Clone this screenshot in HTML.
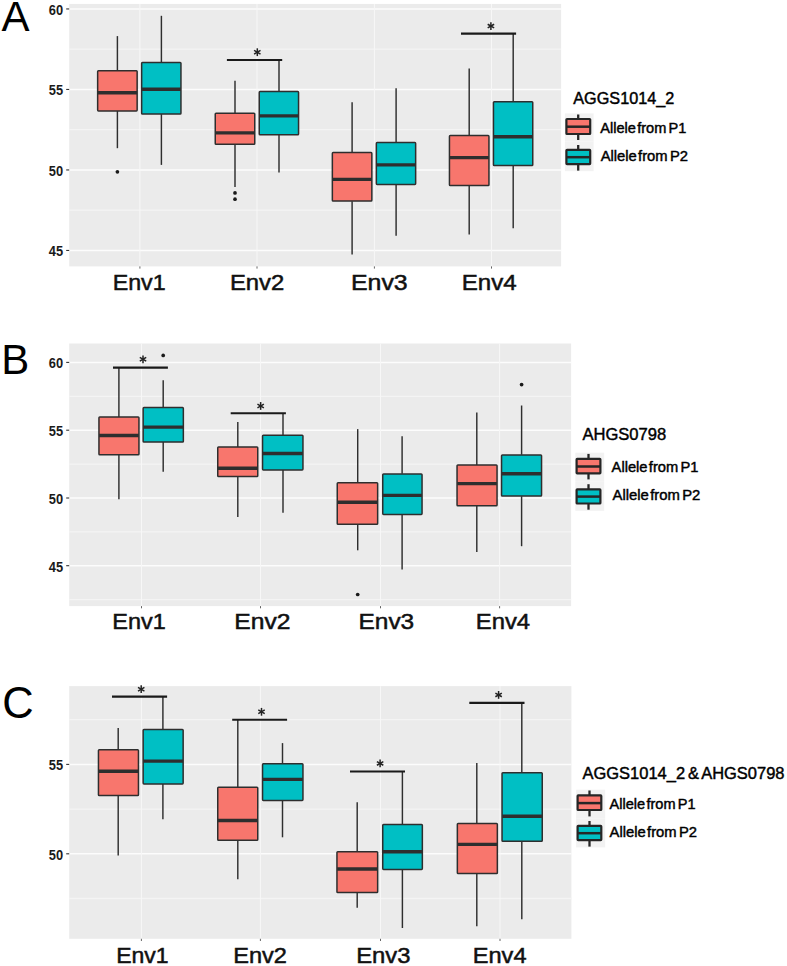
<!DOCTYPE html>
<html><head><meta charset="utf-8"><title>Allele boxplots</title>
<style>
html,body{margin:0;padding:0;background:#fff;}
body{width:787px;height:966px;overflow:hidden;}
svg{display:block;}
text{font-family:"Liberation Sans",sans-serif;fill:#111;}
.yl{font-size:15.1px;font-weight:bold;fill:#1a1a1a;}
.xl{font-size:22px;fill:#111;stroke:#111;stroke-width:0.5px;}
.pl{font-size:42px;fill:#000;}
.lt{font-size:15.7px;fill:#000;stroke:#000;stroke-width:0.42px;word-spacing:-1.5px;}
.ll{font-size:13.8px;fill:#000;stroke:#000;stroke-width:0.42px;word-spacing:-2.6px;}
.star{font-size:15px;font-weight:bold;fill:#222;}
</style></head><body>
<svg width="787" height="966" viewBox="0 0 787 966">
<rect x="0" y="0" width="787" height="966" fill="#ffffff"/>
<rect x="69.2" y="3.95" width="491.9" height="262.45" fill="#EBEBEB"/>
<line x1="69.2" x2="561.1" y1="49.2" y2="49.2" stroke="#f4f4f4" stroke-width="1.3"/>
<line x1="69.2" x2="561.1" y1="129.7" y2="129.7" stroke="#f4f4f4" stroke-width="1.3"/>
<line x1="69.2" x2="561.1" y1="210.2" y2="210.2" stroke="#f4f4f4" stroke-width="1.3"/>
<line x1="69.2" x2="561.1" y1="8.95" y2="8.95" stroke="#fcfcfc" stroke-width="1.5"/>
<line x1="69.2" x2="561.1" y1="89.45" y2="89.45" stroke="#fcfcfc" stroke-width="1.5"/>
<line x1="69.2" x2="561.1" y1="169.95" y2="169.95" stroke="#fcfcfc" stroke-width="1.5"/>
<line x1="69.2" x2="561.1" y1="250.45" y2="250.45" stroke="#fcfcfc" stroke-width="1.5"/>
<line x1="139.9" x2="139.9" y1="3.95" y2="266.4" stroke="#f7f7f7" stroke-width="1.05"/>
<line x1="139.9" x2="139.9" y1="266.4" y2="268.6" stroke="#555" stroke-width="0.9"/>
<line x1="257" x2="257" y1="3.95" y2="266.4" stroke="#f7f7f7" stroke-width="1.05"/>
<line x1="257" x2="257" y1="266.4" y2="268.6" stroke="#555" stroke-width="0.9"/>
<line x1="374.4" x2="374.4" y1="3.95" y2="266.4" stroke="#f7f7f7" stroke-width="1.05"/>
<line x1="374.4" x2="374.4" y1="266.4" y2="268.6" stroke="#555" stroke-width="0.9"/>
<line x1="491.5" x2="491.5" y1="3.95" y2="266.4" stroke="#f7f7f7" stroke-width="1.05"/>
<line x1="491.5" x2="491.5" y1="266.4" y2="268.6" stroke="#555" stroke-width="0.9"/>
<line x1="66.2" x2="69.2" y1="8.95" y2="8.95" stroke="#333" stroke-width="1.1"/>
<text x="63.1" y="14.95" text-anchor="end" class="yl" textLength="14.3" lengthAdjust="spacingAndGlyphs">60</text>
<line x1="66.2" x2="69.2" y1="89.45" y2="89.45" stroke="#333" stroke-width="1.1"/>
<text x="63.1" y="95.45" text-anchor="end" class="yl" textLength="14.3" lengthAdjust="spacingAndGlyphs">55</text>
<line x1="66.2" x2="69.2" y1="169.95" y2="169.95" stroke="#333" stroke-width="1.1"/>
<text x="63.1" y="175.95" text-anchor="end" class="yl" textLength="14.3" lengthAdjust="spacingAndGlyphs">50</text>
<line x1="66.2" x2="69.2" y1="250.45" y2="250.45" stroke="#333" stroke-width="1.1"/>
<text x="63.1" y="256.45" text-anchor="end" class="yl" textLength="14.3" lengthAdjust="spacingAndGlyphs">45</text>
<line x1="117.4" x2="117.4" y1="36.1" y2="70.6" stroke="#2e2e2e" stroke-width="1.45"/>
<line x1="117.4" x2="117.4" y1="111" y2="148.2" stroke="#2e2e2e" stroke-width="1.45"/>
<rect x="97.65" y="70.7" width="39.5" height="40.2" rx="0.8" fill="#F8766D" stroke="#2e2e2e" stroke-width="1.5"/>
<line x1="97.8" x2="137" y1="92.8" y2="92.8" stroke="#2e2e2e" stroke-width="3.4"/>
<circle cx="117.4" cy="171.8" r="1.85" fill="#1a1a1a"/>
<line x1="161.4" x2="161.4" y1="15.8" y2="62.3" stroke="#2e2e2e" stroke-width="1.45"/>
<line x1="161.4" x2="161.4" y1="114.1" y2="164.9" stroke="#2e2e2e" stroke-width="1.45"/>
<rect x="141.65" y="62.4" width="39.3" height="51.6" rx="0.8" fill="#00BFC4" stroke="#2e2e2e" stroke-width="1.5"/>
<line x1="141.8" x2="180.8" y1="89.2" y2="89.2" stroke="#2e2e2e" stroke-width="3.4"/>
<line x1="235" x2="235" y1="80.8" y2="113.1" stroke="#2e2e2e" stroke-width="1.45"/>
<line x1="235" x2="235" y1="144.3" y2="187" stroke="#2e2e2e" stroke-width="1.45"/>
<rect x="215.25" y="113.2" width="39.5" height="31" rx="0.8" fill="#F8766D" stroke="#2e2e2e" stroke-width="1.5"/>
<line x1="215.4" x2="254.6" y1="132.9" y2="132.9" stroke="#2e2e2e" stroke-width="3.4"/>
<circle cx="235" cy="192.9" r="1.85" fill="#1a1a1a"/>
<circle cx="235" cy="199.2" r="1.85" fill="#1a1a1a"/>
<line x1="279" x2="279" y1="60.2" y2="91.5" stroke="#2e2e2e" stroke-width="1.45"/>
<line x1="279" x2="279" y1="134.9" y2="172.5" stroke="#2e2e2e" stroke-width="1.45"/>
<rect x="259.25" y="91.6" width="39.3" height="43.2" rx="0.8" fill="#00BFC4" stroke="#2e2e2e" stroke-width="1.5"/>
<line x1="259.4" x2="298.4" y1="115.9" y2="115.9" stroke="#2e2e2e" stroke-width="3.4"/>
<line x1="226.9" x2="282.2" y1="60" y2="60" stroke="#1a1a1a" stroke-width="2.1"/>
<line x1="257.3" x2="257.3" y1="48.3" y2="56.1" stroke="#222" stroke-width="1.5"/>
<line x1="254.09" x2="260.51" y1="50.35" y2="54.05" stroke="#222" stroke-width="1.5"/>
<line x1="260.51" x2="254.09" y1="50.35" y2="54.05" stroke="#222" stroke-width="1.5"/>
<line x1="352.1" x2="352.1" y1="102.2" y2="152.5" stroke="#2e2e2e" stroke-width="1.45"/>
<line x1="352.1" x2="352.1" y1="201.2" y2="254.4" stroke="#2e2e2e" stroke-width="1.45"/>
<rect x="332.35" y="152.6" width="39.5" height="48.5" rx="0.8" fill="#F8766D" stroke="#2e2e2e" stroke-width="1.5"/>
<line x1="332.5" x2="371.7" y1="179.4" y2="179.4" stroke="#2e2e2e" stroke-width="3.4"/>
<line x1="396.1" x2="396.1" y1="88.2" y2="142.5" stroke="#2e2e2e" stroke-width="1.45"/>
<line x1="396.1" x2="396.1" y1="184.5" y2="235.8" stroke="#2e2e2e" stroke-width="1.45"/>
<rect x="376.35" y="142.6" width="39.3" height="41.8" rx="0.8" fill="#00BFC4" stroke="#2e2e2e" stroke-width="1.5"/>
<line x1="376.5" x2="415.5" y1="164.9" y2="164.9" stroke="#2e2e2e" stroke-width="3.4"/>
<line x1="469.2" x2="469.2" y1="68.6" y2="135.5" stroke="#2e2e2e" stroke-width="1.45"/>
<line x1="469.2" x2="469.2" y1="185.7" y2="234.5" stroke="#2e2e2e" stroke-width="1.45"/>
<rect x="449.45" y="135.6" width="39.5" height="50" rx="0.8" fill="#F8766D" stroke="#2e2e2e" stroke-width="1.5"/>
<line x1="449.6" x2="488.8" y1="157.6" y2="157.6" stroke="#2e2e2e" stroke-width="3.4"/>
<line x1="513.2" x2="513.2" y1="33" y2="101.7" stroke="#2e2e2e" stroke-width="1.45"/>
<line x1="513.2" x2="513.2" y1="165.7" y2="228.2" stroke="#2e2e2e" stroke-width="1.45"/>
<rect x="493.45" y="101.8" width="39.3" height="63.8" rx="0.8" fill="#00BFC4" stroke="#2e2e2e" stroke-width="1.5"/>
<line x1="493.6" x2="532.6" y1="136.7" y2="136.7" stroke="#2e2e2e" stroke-width="3.4"/>
<line x1="461" x2="516.1" y1="33.6" y2="33.6" stroke="#1a1a1a" stroke-width="2.1"/>
<line x1="490.9" x2="490.9" y1="22.2" y2="30" stroke="#222" stroke-width="1.5"/>
<line x1="487.69" x2="494.11" y1="24.25" y2="27.95" stroke="#222" stroke-width="1.5"/>
<line x1="494.11" x2="487.69" y1="24.25" y2="27.95" stroke="#222" stroke-width="1.5"/>
<text x="139.2" y="290.4" text-anchor="middle" class="xl" textLength="53" lengthAdjust="spacingAndGlyphs">Env1</text>
<text x="257.05" y="290.4" text-anchor="middle" class="xl" textLength="54.3" lengthAdjust="spacingAndGlyphs">Env2</text>
<text x="379.35" y="290.4" text-anchor="middle" class="xl" textLength="56.7" lengthAdjust="spacingAndGlyphs">Env3</text>
<text x="489.25" y="290.4" text-anchor="middle" class="xl" textLength="54.9" lengthAdjust="spacingAndGlyphs">Env4</text>
<text x="573.3" y="104.1" class="lt" textLength="101" lengthAdjust="spacingAndGlyphs">AGGS1014_2</text>
<rect x="564.9" y="113.4" width="28.7" height="28.2" fill="#F2F2F2"/>
<line x1="578.2" x2="578.2" y1="114.5" y2="140" stroke="#262626" stroke-width="2.3"/>
<rect x="566.4" y="119" width="23.8" height="15" rx="0.6" fill="#F8766D" stroke="#262626" stroke-width="2.2"/>
<line x1="566.4" x2="590.2" y1="126.7" y2="126.7" stroke="#262626" stroke-width="2.5"/>
<rect x="564.9" y="141.6" width="28.7" height="29.6" fill="#F2F2F2"/>
<line x1="578.2" x2="578.2" y1="145" y2="170.6" stroke="#262626" stroke-width="2.3"/>
<rect x="566.4" y="149.9" width="23.8" height="14.3" rx="0.6" fill="#00BFC4" stroke="#262626" stroke-width="2.2"/>
<line x1="566.4" x2="590.2" y1="157.2" y2="157.2" stroke="#262626" stroke-width="2.5"/>
<text x="600.2" y="132.5" class="ll" textLength="86.2" lengthAdjust="spacingAndGlyphs">Allele from <tspan dx="0.9">P1</tspan></text>
<text x="600.7" y="160.7" class="ll" textLength="87.3" lengthAdjust="spacingAndGlyphs">Allele from <tspan dx="0.9">P2</tspan></text>
<text x="1.5" y="30.9" class="pl">A</text>
<rect x="69.2" y="343.5" width="501.9" height="262.6" fill="#EBEBEB"/>
<line x1="69.2" x2="571.1" y1="396.3" y2="396.3" stroke="#f4f4f4" stroke-width="1.3"/>
<line x1="69.2" x2="571.1" y1="464.1" y2="464.1" stroke="#f4f4f4" stroke-width="1.3"/>
<line x1="69.2" x2="571.1" y1="531.8" y2="531.8" stroke="#f4f4f4" stroke-width="1.3"/>
<line x1="69.2" x2="571.1" y1="599.6" y2="599.6" stroke="#f4f4f4" stroke-width="1.3"/>
<line x1="69.2" x2="571.1" y1="362.4" y2="362.4" stroke="#fcfcfc" stroke-width="1.5"/>
<line x1="69.2" x2="571.1" y1="430.2" y2="430.2" stroke="#fcfcfc" stroke-width="1.5"/>
<line x1="69.2" x2="571.1" y1="498" y2="498" stroke="#fcfcfc" stroke-width="1.5"/>
<line x1="69.2" x2="571.1" y1="565.7" y2="565.7" stroke="#fcfcfc" stroke-width="1.5"/>
<line x1="141.5" x2="141.5" y1="343.5" y2="606.1" stroke="#f7f7f7" stroke-width="1.05"/>
<line x1="141.5" x2="141.5" y1="606.1" y2="608.3" stroke="#555" stroke-width="0.9"/>
<line x1="260.5" x2="260.5" y1="343.5" y2="606.1" stroke="#f7f7f7" stroke-width="1.05"/>
<line x1="260.5" x2="260.5" y1="606.1" y2="608.3" stroke="#555" stroke-width="0.9"/>
<line x1="380.5" x2="380.5" y1="343.5" y2="606.1" stroke="#f7f7f7" stroke-width="1.05"/>
<line x1="380.5" x2="380.5" y1="606.1" y2="608.3" stroke="#555" stroke-width="0.9"/>
<line x1="499.6" x2="499.6" y1="343.5" y2="606.1" stroke="#f7f7f7" stroke-width="1.05"/>
<line x1="499.6" x2="499.6" y1="606.1" y2="608.3" stroke="#555" stroke-width="0.9"/>
<line x1="66.2" x2="69.2" y1="362.4" y2="362.4" stroke="#333" stroke-width="1.1"/>
<text x="63.1" y="368.4" text-anchor="end" class="yl" textLength="14.3" lengthAdjust="spacingAndGlyphs">60</text>
<line x1="66.2" x2="69.2" y1="430.2" y2="430.2" stroke="#333" stroke-width="1.1"/>
<text x="63.1" y="436.2" text-anchor="end" class="yl" textLength="14.3" lengthAdjust="spacingAndGlyphs">55</text>
<line x1="66.2" x2="69.2" y1="498" y2="498" stroke="#333" stroke-width="1.1"/>
<text x="63.1" y="504" text-anchor="end" class="yl" textLength="14.3" lengthAdjust="spacingAndGlyphs">50</text>
<line x1="66.2" x2="69.2" y1="565.7" y2="565.7" stroke="#333" stroke-width="1.1"/>
<text x="63.1" y="571.7" text-anchor="end" class="yl" textLength="14.3" lengthAdjust="spacingAndGlyphs">45</text>
<line x1="118.9" x2="118.9" y1="367.6" y2="416.9" stroke="#2e2e2e" stroke-width="1.45"/>
<line x1="118.9" x2="118.9" y1="454.8" y2="499.2" stroke="#2e2e2e" stroke-width="1.45"/>
<rect x="98.95" y="417" width="40" height="37.7" rx="0.8" fill="#F8766D" stroke="#2e2e2e" stroke-width="1.5"/>
<line x1="99.1" x2="138.8" y1="435.5" y2="435.5" stroke="#2e2e2e" stroke-width="3.4"/>
<line x1="163.2" x2="163.2" y1="380.3" y2="407.5" stroke="#2e2e2e" stroke-width="1.45"/>
<line x1="163.2" x2="163.2" y1="442.1" y2="471.8" stroke="#2e2e2e" stroke-width="1.45"/>
<rect x="143.15" y="407.6" width="40.2" height="34.4" rx="0.8" fill="#00BFC4" stroke="#2e2e2e" stroke-width="1.5"/>
<line x1="143.3" x2="183.2" y1="427.1" y2="427.1" stroke="#2e2e2e" stroke-width="3.4"/>
<circle cx="163.2" cy="355.4" r="1.85" fill="#1a1a1a"/>
<line x1="113" x2="167.9" y1="367.6" y2="367.6" stroke="#1a1a1a" stroke-width="2.1"/>
<line x1="143" x2="143" y1="355.4" y2="363.2" stroke="#222" stroke-width="1.5"/>
<line x1="139.79" x2="146.21" y1="357.45" y2="361.15" stroke="#222" stroke-width="1.5"/>
<line x1="146.21" x2="139.79" y1="357.45" y2="361.15" stroke="#222" stroke-width="1.5"/>
<line x1="237.8" x2="237.8" y1="422" y2="446.9" stroke="#2e2e2e" stroke-width="1.45"/>
<line x1="237.8" x2="237.8" y1="476.6" y2="517" stroke="#2e2e2e" stroke-width="1.45"/>
<rect x="217.75" y="447" width="40" height="29.5" rx="0.8" fill="#F8766D" stroke="#2e2e2e" stroke-width="1.5"/>
<line x1="217.9" x2="257.6" y1="468.2" y2="468.2" stroke="#2e2e2e" stroke-width="3.4"/>
<line x1="283" x2="283" y1="413.1" y2="435.2" stroke="#2e2e2e" stroke-width="1.45"/>
<line x1="283" x2="283" y1="470" y2="512.7" stroke="#2e2e2e" stroke-width="1.45"/>
<rect x="262.55" y="435.3" width="40.4" height="34.6" rx="0.8" fill="#00BFC4" stroke="#2e2e2e" stroke-width="1.5"/>
<line x1="262.7" x2="302.8" y1="453.5" y2="453.5" stroke="#2e2e2e" stroke-width="3.4"/>
<line x1="230.7" x2="285.9" y1="413.2" y2="413.2" stroke="#1a1a1a" stroke-width="2.1"/>
<line x1="260.65" x2="260.65" y1="402.05" y2="409.85" stroke="#222" stroke-width="1.5"/>
<line x1="257.44" x2="263.86" y1="404.1" y2="407.8" stroke="#222" stroke-width="1.5"/>
<line x1="263.86" x2="257.44" y1="404.1" y2="407.8" stroke="#222" stroke-width="1.5"/>
<line x1="357.7" x2="357.7" y1="429.1" y2="482.7" stroke="#2e2e2e" stroke-width="1.45"/>
<line x1="357.7" x2="357.7" y1="524.4" y2="550.3" stroke="#2e2e2e" stroke-width="1.45"/>
<rect x="337.25" y="482.8" width="40.4" height="41.5" rx="0.8" fill="#F8766D" stroke="#2e2e2e" stroke-width="1.5"/>
<line x1="337.4" x2="377.5" y1="502.3" y2="502.3" stroke="#2e2e2e" stroke-width="3.4"/>
<circle cx="357.7" cy="594.5" r="1.85" fill="#1a1a1a"/>
<line x1="402.1" x2="402.1" y1="436.2" y2="473.8" stroke="#2e2e2e" stroke-width="1.45"/>
<line x1="402.1" x2="402.1" y1="514.5" y2="569.6" stroke="#2e2e2e" stroke-width="1.45"/>
<rect x="382.75" y="473.9" width="39.3" height="40.5" rx="0.8" fill="#00BFC4" stroke="#2e2e2e" stroke-width="1.5"/>
<line x1="382.9" x2="421.9" y1="495.4" y2="495.4" stroke="#2e2e2e" stroke-width="3.4"/>
<line x1="476.8" x2="476.8" y1="412.6" y2="464.9" stroke="#2e2e2e" stroke-width="1.45"/>
<line x1="476.8" x2="476.8" y1="505.8" y2="552.1" stroke="#2e2e2e" stroke-width="1.45"/>
<rect x="457.05" y="465" width="40" height="40.7" rx="0.8" fill="#F8766D" stroke="#2e2e2e" stroke-width="1.5"/>
<line x1="457.2" x2="496.9" y1="483.6" y2="483.6" stroke="#2e2e2e" stroke-width="3.4"/>
<line x1="521.6" x2="521.6" y1="405.5" y2="454.8" stroke="#2e2e2e" stroke-width="1.45"/>
<line x1="521.6" x2="521.6" y1="496.2" y2="546.2" stroke="#2e2e2e" stroke-width="1.45"/>
<rect x="501.55" y="454.9" width="40" height="41.2" rx="0.8" fill="#00BFC4" stroke="#2e2e2e" stroke-width="1.5"/>
<line x1="501.7" x2="541.4" y1="473.8" y2="473.8" stroke="#2e2e2e" stroke-width="3.4"/>
<circle cx="521.6" cy="384.6" r="1.85" fill="#1a1a1a"/>
<text x="139.05" y="628.7" text-anchor="middle" class="xl" textLength="53.5" lengthAdjust="spacingAndGlyphs">Env1</text>
<text x="262.4" y="628.7" text-anchor="middle" class="xl" textLength="56.2" lengthAdjust="spacingAndGlyphs">Env2</text>
<text x="386.35" y="628.7" text-anchor="middle" class="xl" textLength="55.7" lengthAdjust="spacingAndGlyphs">Env3</text>
<text x="502.95" y="628.7" text-anchor="middle" class="xl" textLength="54.3" lengthAdjust="spacingAndGlyphs">Env4</text>
<text x="582.4" y="440" class="lt" textLength="83.8" lengthAdjust="spacingAndGlyphs">AHGS0798</text>
<rect x="575.3" y="452.7" width="28.9" height="29.1" fill="#F2F2F2"/>
<line x1="588.5" x2="588.5" y1="453.9" y2="479.4" stroke="#262626" stroke-width="2.3"/>
<rect x="576.6" y="458.8" width="23.8" height="14.6" rx="0.6" fill="#F8766D" stroke="#262626" stroke-width="2.2"/>
<line x1="576.6" x2="600.4" y1="466.5" y2="466.5" stroke="#262626" stroke-width="2.5"/>
<rect x="575.3" y="481.8" width="28.9" height="29" fill="#F2F2F2"/>
<line x1="588.5" x2="588.5" y1="484.2" y2="509.7" stroke="#262626" stroke-width="2.3"/>
<rect x="576.6" y="489.3" width="23.8" height="14.2" rx="0.6" fill="#00BFC4" stroke="#262626" stroke-width="2.2"/>
<line x1="576.6" x2="600.4" y1="496.6" y2="496.6" stroke="#262626" stroke-width="2.5"/>
<text x="611.6" y="471.8" class="ll" textLength="86.9" lengthAdjust="spacingAndGlyphs">Allele from <tspan dx="0.9">P1</tspan></text>
<text x="612.6" y="500.2" class="ll" textLength="87.7" lengthAdjust="spacingAndGlyphs">Allele from <tspan dx="0.9">P2</tspan></text>
<text x="1.3" y="374.4" class="pl">B</text>
<rect x="69.2" y="686.1" width="502.2" height="252.7" fill="#EBEBEB"/>
<line x1="69.2" x2="571.4" y1="719.7" y2="719.7" stroke="#f4f4f4" stroke-width="1.3"/>
<line x1="69.2" x2="571.4" y1="809.1" y2="809.1" stroke="#f4f4f4" stroke-width="1.3"/>
<line x1="69.2" x2="571.4" y1="898.5" y2="898.5" stroke="#f4f4f4" stroke-width="1.3"/>
<line x1="69.2" x2="571.4" y1="764.4" y2="764.4" stroke="#fcfcfc" stroke-width="1.5"/>
<line x1="69.2" x2="571.4" y1="853.8" y2="853.8" stroke="#fcfcfc" stroke-width="1.5"/>
<line x1="141.4" x2="141.4" y1="686.1" y2="938.8" stroke="#f7f7f7" stroke-width="1.05"/>
<line x1="141.4" x2="141.4" y1="938.8" y2="941" stroke="#555" stroke-width="0.9"/>
<line x1="260.4" x2="260.4" y1="686.1" y2="938.8" stroke="#f7f7f7" stroke-width="1.05"/>
<line x1="260.4" x2="260.4" y1="938.8" y2="941" stroke="#555" stroke-width="0.9"/>
<line x1="380.5" x2="380.5" y1="686.1" y2="938.8" stroke="#f7f7f7" stroke-width="1.05"/>
<line x1="380.5" x2="380.5" y1="938.8" y2="941" stroke="#555" stroke-width="0.9"/>
<line x1="500" x2="500" y1="686.1" y2="938.8" stroke="#f7f7f7" stroke-width="1.05"/>
<line x1="500" x2="500" y1="938.8" y2="941" stroke="#555" stroke-width="0.9"/>
<line x1="66.2" x2="69.2" y1="764.4" y2="764.4" stroke="#333" stroke-width="1.1"/>
<text x="63.1" y="770.4" text-anchor="end" class="yl" textLength="14.3" lengthAdjust="spacingAndGlyphs">55</text>
<line x1="66.2" x2="69.2" y1="853.8" y2="853.8" stroke="#333" stroke-width="1.1"/>
<text x="63.1" y="859.8" text-anchor="end" class="yl" textLength="14.3" lengthAdjust="spacingAndGlyphs">50</text>
<line x1="118.2" x2="118.2" y1="728.1" y2="749.7" stroke="#2e2e2e" stroke-width="1.45"/>
<line x1="118.2" x2="118.2" y1="795.7" y2="855.6" stroke="#2e2e2e" stroke-width="1.45"/>
<rect x="98.45" y="749.8" width="40" height="45.8" rx="0.8" fill="#F8766D" stroke="#2e2e2e" stroke-width="1.5"/>
<line x1="98.6" x2="138.3" y1="771.3" y2="771.3" stroke="#2e2e2e" stroke-width="3.4"/>
<line x1="162.9" x2="162.9" y1="696.8" y2="729.4" stroke="#2e2e2e" stroke-width="1.45"/>
<line x1="162.9" x2="162.9" y1="784" y2="819.2" stroke="#2e2e2e" stroke-width="1.45"/>
<rect x="143.15" y="729.5" width="40" height="54.4" rx="0.8" fill="#00BFC4" stroke="#2e2e2e" stroke-width="1.5"/>
<line x1="143.3" x2="183" y1="761.1" y2="761.1" stroke="#2e2e2e" stroke-width="3.4"/>
<line x1="112" x2="167.1" y1="696.6" y2="696.6" stroke="#1a1a1a" stroke-width="2.1"/>
<line x1="141.2" x2="141.2" y1="685.3" y2="693.1" stroke="#222" stroke-width="1.5"/>
<line x1="137.99" x2="144.41" y1="687.35" y2="691.05" stroke="#222" stroke-width="1.5"/>
<line x1="144.41" x2="137.99" y1="687.35" y2="691.05" stroke="#222" stroke-width="1.5"/>
<line x1="237.8" x2="237.8" y1="720" y2="787.1" stroke="#2e2e2e" stroke-width="1.45"/>
<line x1="237.8" x2="237.8" y1="840.3" y2="879.2" stroke="#2e2e2e" stroke-width="1.45"/>
<rect x="217.75" y="787.2" width="40" height="53" rx="0.8" fill="#F8766D" stroke="#2e2e2e" stroke-width="1.5"/>
<line x1="217.9" x2="257.6" y1="820.5" y2="820.5" stroke="#2e2e2e" stroke-width="3.4"/>
<line x1="282.5" x2="282.5" y1="743.1" y2="763.7" stroke="#2e2e2e" stroke-width="1.45"/>
<line x1="282.5" x2="282.5" y1="800.5" y2="837.3" stroke="#2e2e2e" stroke-width="1.45"/>
<rect x="262.55" y="763.8" width="40.4" height="36.6" rx="0.8" fill="#00BFC4" stroke="#2e2e2e" stroke-width="1.5"/>
<line x1="262.7" x2="302.8" y1="779.4" y2="779.4" stroke="#2e2e2e" stroke-width="3.4"/>
<line x1="232.2" x2="287.1" y1="719.7" y2="719.7" stroke="#1a1a1a" stroke-width="2.1"/>
<line x1="261.5" x2="261.5" y1="707.9" y2="715.7" stroke="#222" stroke-width="1.5"/>
<line x1="258.29" x2="264.71" y1="709.95" y2="713.65" stroke="#222" stroke-width="1.5"/>
<line x1="264.71" x2="258.29" y1="709.95" y2="713.65" stroke="#222" stroke-width="1.5"/>
<line x1="357.2" x2="357.2" y1="802.3" y2="851.7" stroke="#2e2e2e" stroke-width="1.45"/>
<line x1="357.2" x2="357.2" y1="892.7" y2="907.7" stroke="#2e2e2e" stroke-width="1.45"/>
<rect x="336.95" y="851.8" width="40.7" height="40.8" rx="0.8" fill="#F8766D" stroke="#2e2e2e" stroke-width="1.5"/>
<line x1="337.1" x2="377.5" y1="869" y2="869" stroke="#2e2e2e" stroke-width="3.4"/>
<line x1="402.4" x2="402.4" y1="771.3" y2="824.3" stroke="#2e2e2e" stroke-width="1.45"/>
<line x1="402.4" x2="402.4" y1="869.5" y2="928" stroke="#2e2e2e" stroke-width="1.45"/>
<rect x="382.75" y="824.4" width="39.6" height="45" rx="0.8" fill="#00BFC4" stroke="#2e2e2e" stroke-width="1.5"/>
<line x1="382.9" x2="422.2" y1="851.7" y2="851.7" stroke="#2e2e2e" stroke-width="3.4"/>
<line x1="350" x2="405" y1="771.5" y2="771.5" stroke="#1a1a1a" stroke-width="2.1"/>
<line x1="380.1" x2="380.1" y1="759.5" y2="767.3" stroke="#222" stroke-width="1.5"/>
<line x1="376.89" x2="383.31" y1="761.55" y2="765.25" stroke="#222" stroke-width="1.5"/>
<line x1="383.31" x2="376.89" y1="761.55" y2="765.25" stroke="#222" stroke-width="1.5"/>
<line x1="476.8" x2="476.8" y1="762.9" y2="823.3" stroke="#2e2e2e" stroke-width="1.45"/>
<line x1="476.8" x2="476.8" y1="873.6" y2="926.2" stroke="#2e2e2e" stroke-width="1.45"/>
<rect x="457.35" y="823.4" width="40" height="50.1" rx="0.8" fill="#F8766D" stroke="#2e2e2e" stroke-width="1.5"/>
<line x1="457.5" x2="497.2" y1="844.4" y2="844.4" stroke="#2e2e2e" stroke-width="3.4"/>
<line x1="521.8" x2="521.8" y1="702.7" y2="772.6" stroke="#2e2e2e" stroke-width="1.45"/>
<line x1="521.8" x2="521.8" y1="841.3" y2="919.3" stroke="#2e2e2e" stroke-width="1.45"/>
<rect x="502.05" y="772.7" width="40.2" height="68.5" rx="0.8" fill="#00BFC4" stroke="#2e2e2e" stroke-width="1.5"/>
<line x1="502.2" x2="542.1" y1="816.3" y2="816.3" stroke="#2e2e2e" stroke-width="3.4"/>
<line x1="469.3" x2="524.5" y1="702.9" y2="702.9" stroke="#1a1a1a" stroke-width="2.1"/>
<line x1="498.6" x2="498.6" y1="691" y2="698.8" stroke="#222" stroke-width="1.5"/>
<line x1="495.39" x2="501.81" y1="693.05" y2="696.75" stroke="#222" stroke-width="1.5"/>
<line x1="501.81" x2="495.39" y1="693.05" y2="696.75" stroke="#222" stroke-width="1.5"/>
<text x="142.4" y="963.2" text-anchor="middle" class="xl" textLength="52.4" lengthAdjust="spacingAndGlyphs">Env1</text>
<text x="260.05" y="963.2" text-anchor="middle" class="xl" textLength="53.7" lengthAdjust="spacingAndGlyphs">Env2</text>
<text x="383.35" y="963.2" text-anchor="middle" class="xl" textLength="54.3" lengthAdjust="spacingAndGlyphs">Env3</text>
<text x="499.65" y="963.2" text-anchor="middle" class="xl" textLength="53.7" lengthAdjust="spacingAndGlyphs">Env4</text>
<text x="582.5" y="778.5" class="lt" textLength="202" lengthAdjust="spacingAndGlyphs">AGGS1014_2 &amp; AHGS0798</text>
<rect x="576.1" y="789.7" width="29.1" height="28.9" fill="#F2F2F2"/>
<line x1="589.5" x2="589.5" y1="790.5" y2="816.4" stroke="#262626" stroke-width="2.3"/>
<rect x="577.6" y="795.4" width="23.7" height="14.6" rx="0.6" fill="#F8766D" stroke="#262626" stroke-width="2.2"/>
<line x1="577.6" x2="601.3" y1="803.1" y2="803.1" stroke="#262626" stroke-width="2.5"/>
<rect x="576.1" y="818.6" width="29.1" height="28.8" fill="#F2F2F2"/>
<line x1="589.5" x2="589.5" y1="821" y2="846.6" stroke="#262626" stroke-width="2.3"/>
<rect x="577.6" y="825.9" width="23.7" height="14.2" rx="0.6" fill="#00BFC4" stroke="#262626" stroke-width="2.2"/>
<line x1="577.6" x2="601.3" y1="833.2" y2="833.2" stroke="#262626" stroke-width="2.5"/>
<text x="609.6" y="809" class="ll" textLength="86" lengthAdjust="spacingAndGlyphs">Allele from <tspan dx="0.9">P1</tspan></text>
<text x="609.6" y="836.7" class="ll" textLength="87.4" lengthAdjust="spacingAndGlyphs">Allele from <tspan dx="0.9">P2</tspan></text>
<text x="2.2" y="718.3" class="pl" style="font-size:43.5px">C</text>
</svg>
</body></html>
